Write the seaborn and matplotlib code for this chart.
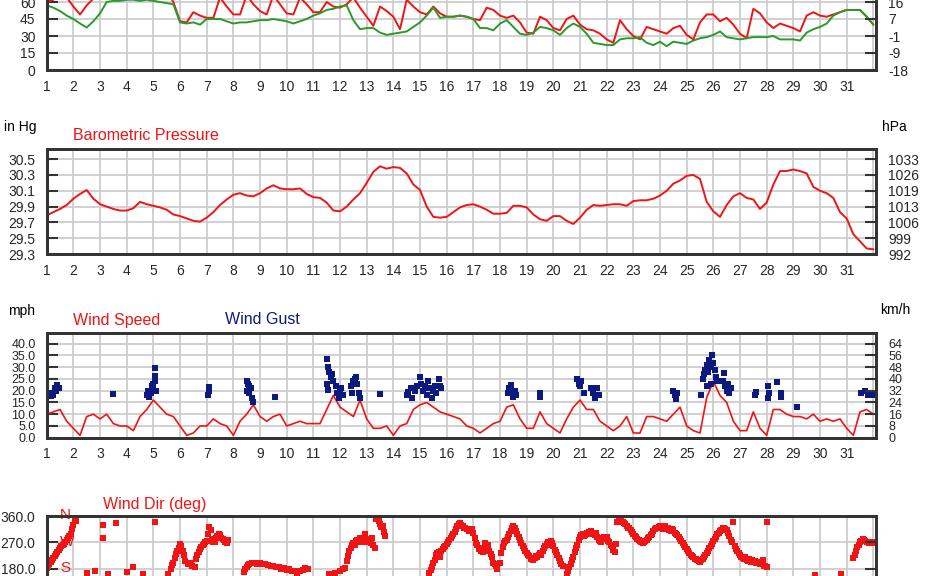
import numpy as np
import pandas as pd
import matplotlib
matplotlib.use("Agg")
import matplotlib.pyplot as plt
import seaborn as sns

# ---------------- data ----------------
days = list(range(1, 32))
sample_days = np.arange(1.0, 32.001, 0.25)   # one sample every 6 hours

temp_f = [60, 62, 66, 64,   56, 49, 57, 63,   66, 64, 70, 68,   66, 65, 70, 68,
          67, 66, 70, 60,   43, 42, 51, 48,   46, 46, 64, 56,   49, 49, 66, 58,
          52, 49, 66, 58,   50, 49, 64, 58,   51, 51, 60, 56,   55, 58, 64, 55,
          47, 39, 56, 52,   47, 36, 62, 56,   51, 49, 56, 50,   47, 47, 48, 47,
          45, 44, 55, 53,   48, 46, 48, 42,   33, 32, 47, 44,   37, 35, 45, 48,
          40, 36, 35, 32,   27, 24, 44, 36,   30, 27, 38, 36,   34, 32, 37, 39,
          31, 27, 42, 49,   49, 43, 46, 40,   32, 28, 54, 50,   42, 37, 41, 39,
          37, 34, 48, 51,   48, 47, 49, 51,   53, 53, 53, 47,   40]
dew_f = [57, 55, 52, 48,   45, 41, 37.5, 43, 50, 60, 61, 61,   62, 62, 61, 62,
         61, 60, 59, 58,   42, 41, 42, 40,   45, 45, 45, 43,   41, 42, 42, 43,
         44, 44, 45, 44,   43, 41, 43, 45,   48, 50, 53, 54,   56, 57, 44, 36,
         37, 37, 33, 31,   32, 33, 34, 38,   42, 48, 55, 46,   47, 47, 48, 47,
         45, 37, 37, 35,   41, 44, 38, 32,   31, 33, 38, 37,   35, 31, 37, 41,
         38, 32, 24, 23,   22, 22, 27, 28,   28, 29, 24, 22,   25, 21, 25, 24,
         23, 26, 28, 29,   31, 34, 29, 28,   27, 28, 29, 29,   29, 30, 27, 27,
         27, 26, 33, 36,   38, 41, 48, 51,   53, 53, 53, 47,   40]
press_inhg = [29.79, 29.83, 29.87, 29.92,  30.00, 30.06, 30.11, 30.00,  29.93, 29.90, 29.87, 29.85,
              29.85, 29.88, 29.96, 29.93,  29.91, 29.89, 29.86, 29.80,  29.78, 29.75, 29.72, 29.71,
              29.76, 29.83, 29.92, 29.99,  30.05, 30.07, 30.04, 30.03,  30.07, 30.13, 30.17, 30.13,
              30.12, 30.12, 30.13, 30.06,  30.02, 30.01, 29.95, 29.85,  29.84, 29.90, 29.99, 30.07,
              30.20, 30.34, 30.41, 30.38,  30.40, 30.39, 30.32, 30.18,  30.11, 29.90, 29.77, 29.76,
              29.77, 29.83, 29.89, 29.92,  29.93, 29.90, 29.86, 29.81,  29.81, 29.82, 29.91, 29.91,
              29.89, 29.80, 29.74, 29.72,  29.78, 29.78, 29.72, 29.68,  29.76, 29.86, 29.92, 29.91,
              29.92, 29.93, 29.93, 29.91,  29.97, 29.98, 29.98, 30.00,  30.04, 30.10, 30.19, 30.23,
              30.29, 30.30, 30.25, 29.96,  29.84, 29.77, 29.92, 30.03,  30.07, 30.01, 29.99, 29.87,
              29.95, 30.18, 30.35, 30.35,  30.37, 30.35, 30.32, 30.15,  30.10, 30.07, 30.01, 29.83,
              29.75, 29.55, 29.46, 29.37,  29.36]
wind_mph = [10, 11, 12, 7,   4, 1, 9, 10,   8, 10, 6, 5,   5, 3, 9, 12,
            16, 13, 10, 9,   5, 1, 2, 5,    5, 8, 6, 5,    1, 7, 10, 14,
            9, 7, 9, 10,     5, 6, 7, 6,    6, 6, 12, 18,  13, 11, 9, 16,
            8, 4, 4, 5,      1, 5, 6, 12,   14, 15, 13, 11, 10, 9, 8, 5,
            4, 2, 4, 6,      7, 13, 14, 8,  4, 4, 11, 6,   4, 2, 8, 13,
            16, 12, 12, 7,   5, 3, 5, 9,    2, 2, 9, 9,    8, 7, 10, 13,
            5, 3, 2, 17,     24, 18, 15, 7, 3, 3, 11, 4,   1, 12, 12, 10,
            9, 9, 8, 10,     7, 8, 7, 8,    4, 1, 11, 12,  10]
gust_day = [1.15, 1.2, 1.25, 1.3, 1.35, 1.4, 1.45, 3.5,
            4.75, 4.8, 4.85, 4.9, 4.95, 5.0, 5.0, 5.05, 5.05, 5.05, 5.1,
            7.05, 7.1, 7.1, 8.5, 8.55, 8.6, 8.5, 8.6, 8.65, 8.7, 8.75, 9.55,
            11.5, 11.55, 11.6, 11.65, 11.5, 11.55, 11.7, 11.75,
            11.85, 11.9, 11.95, 12.0, 12.05, 12.1,
            12.4, 12.45, 12.5, 12.55, 12.6, 12.65, 12.7, 12.75, 13.5,
            14.5, 14.55, 14.65, 14.7, 14.8, 14.9, 15.0, 15.05, 15.1, 15.2,
            15.25, 15.3, 15.35, 15.45, 15.5, 15.55, 15.6, 15.7, 15.75, 15.8,
            18.3, 18.35, 18.4, 18.45, 18.5, 18.55, 18.6, 19.5, 19.5,
            20.9, 20.95, 21.0, 21.05, 21.15, 21.4, 21.5, 21.55, 21.65, 21.7,
            24.5, 24.55, 24.6, 24.65,
            25.55, 25.6, 25.65, 25.7, 25.75, 25.75, 25.8, 25.85, 25.9, 25.9,
            25.95, 26.0, 26.05, 26.1, 26.15,
            26.35, 26.4, 26.45, 26.5, 26.55, 26.6, 26.65,
            27.55, 27.6, 28.05, 28.1, 28.05, 28.4, 28.55, 28.55, 29.15,
            31.55, 31.7, 31.8, 31.9, 32.0]
gust_mph = [17.8, 19, 18, 21, 20, 22.5, 21, 18.5,
            18, 20, 17.5, 19, 22, 21, 23, 24, 26.4, 29.5, 20,
            18, 20, 21.5, 24, 23, 22, 20, 19, 21, 17, 15, 17.5,
            33.5, 30, 28, 26, 23, 20.5, 27, 24,
            22, 19, 17, 20, 21, 18,
            22, 19, 24, 25, 26, 23, 19, 17, 18.5,
            18, 19.5, 21, 17, 20, 22, 26, 23, 20, 22,
            18, 24, 21, 17, 20, 22, 19, 25, 22, 21,
            19, 21, 22.5, 19, 17.5, 20, 18, 17.5, 19,
            25, 23, 22, 24, 19, 21, 19, 17, 21, 18,
            20, 18, 16.5, 19,
            18, 25, 27, 29, 31, 22, 28, 33, 30, 23,
            35, 32, 29, 26, 24,
            24, 27.5, 22, 20, 23, 19, 21,
            18, 19.5, 22, 19, 17, 23.5, 19, 17.5, 13,
            19, 20, 18, 19, 18]
dir_day = [1.0, 1.05, 1.1, 1.15, 1.2, 1.25, 1.3, 1.35, 1.4, 1.45, 1.5, 1.55, 1.6, 1.65,
           1.7, 1.75, 1.8, 1.85, 1.9, 1.95, 2.0, 2.05, 2.1,
           3.1, 3.1, 3.6, 5.07, 4.25, 2.5, 2.8, 3.3, 4.0, 4.6,
           5.55, 5.65, 5.7, 5.75, 5.8, 5.85, 5.9, 5.95, 6.0, 6.05, 6.1, 6.15, 6.2, 6.3, 6.4, 6.45, 6.55,
           6.6, 6.65, 6.7, 6.75, 6.8, 6.85, 6.9, 6.95, 7.0, 7.05, 7.1, 7.15, 7.2, 7.25, 7.3, 7.35,
           7.4, 7.45, 7.5, 7.55, 7.6, 7.65, 7.7, 7.75, 7.8,
           8.4, 8.45, 8.5, 8.55, 8.6, 8.7, 8.8, 8.9, 9.0, 9.1, 9.2, 9.3, 9.4, 9.5, 9.6, 9.7, 9.8,
           9.9, 10.0, 10.1, 10.2, 10.3, 10.4, 10.5, 10.6, 10.7, 10.8,
           11.6, 11.8, 12.0, 12.1, 12.2,
           12.25, 12.3, 12.35, 12.4, 12.45, 12.5, 12.55, 12.6, 12.65, 12.7, 12.75, 12.8, 12.85,
           12.9, 12.95, 13.0, 13.05, 13.1, 13.15, 13.2, 13.25, 13.3,
           13.35, 13.4, 13.45, 13.5, 13.55, 13.6, 13.65, 13.7,
           15.35, 15.4, 15.45, 15.5, 15.55, 15.6, 15.65, 15.7, 15.75, 15.8, 15.85, 15.9, 15.95,
           16.0, 16.05, 16.1, 16.15, 16.2, 16.25, 16.3, 16.35, 16.4, 16.45, 16.5,
           16.55, 16.6, 16.65, 16.7, 16.75, 16.8, 16.85, 16.9, 16.95, 17.0,
           17.05, 17.1, 17.15, 17.2, 17.25, 17.3, 17.35, 17.4, 17.45, 17.5, 17.55, 17.6, 17.65,
           17.7, 17.75, 17.8, 17.85, 17.9,
           18.0, 18.05, 18.1, 18.15, 18.2, 18.25, 18.3, 18.35, 18.4, 18.45, 18.5, 18.55, 18.6,
           18.65, 18.7, 18.75, 18.8, 18.85, 18.9,
           18.95, 19.0, 19.05, 19.1, 19.15, 19.2, 19.25, 19.3, 19.35, 19.4, 19.45, 19.5, 19.55,
           19.6, 19.65, 19.7, 19.75, 19.8, 19.85, 19.9, 19.95, 20.0, 20.05, 20.1, 20.15, 20.2,
           20.25, 20.3, 20.35,
           20.5, 20.55, 20.6, 20.65, 20.7, 20.75, 20.8, 20.85, 20.9, 20.95,
           21.0, 21.05, 21.1, 21.15, 21.2, 21.25, 21.3, 21.35, 21.4, 21.45, 21.5, 21.55, 21.6,
           21.65, 21.7, 21.75, 21.8, 21.85, 21.9, 21.95, 22.0, 22.05, 22.1, 22.15, 22.2, 22.25,
           22.3, 22.35,
           22.4, 22.45, 22.5, 22.55, 22.6, 22.65, 22.7, 22.75, 22.8, 22.85, 22.9,
           22.95, 23.0, 23.05, 23.1, 23.15, 23.2, 23.25, 23.3, 23.35, 23.4, 23.45, 23.5, 23.55,
           23.6, 23.65, 23.7,
           23.75, 23.8, 23.85, 23.9, 23.95, 24.0, 24.05, 24.1, 24.15, 24.2, 24.25, 24.3, 24.35,
           24.4, 24.45, 24.5, 24.55, 24.6, 24.65, 24.7,
           24.75, 24.8, 24.85, 24.9, 24.95, 25.0, 25.05, 25.1, 25.15, 25.2, 25.25, 25.3, 25.35,
           25.4, 25.45, 25.5, 25.55, 25.6, 25.65, 25.7, 25.75, 25.8, 25.85, 25.9, 25.95, 26.0,
           26.05, 26.1, 26.15, 26.2, 26.25, 26.3, 26.35, 26.4, 26.45, 26.5, 26.55, 26.6, 26.65,
           26.7, 26.75, 26.8, 26.85, 26.9,
           26.95, 27.0, 27.05, 27.1, 27.15, 27.2, 27.25, 27.3, 27.35, 27.4, 27.45, 27.5, 27.55,
           27.6, 27.65, 27.7, 27.75, 27.8, 27.85, 27.9, 27.95, 28.0, 28.02,
           29.8, 30.8,
           31.25, 31.3, 31.35, 31.4, 31.45, 31.5, 31.55, 31.6, 31.65, 31.7, 31.75, 31.8, 31.85,
           31.9, 31.95, 32.0]
dir_deg = [182, 188, 195, 203, 210, 216, 222, 230, 236, 244, 250, 256, 262, 266,
           272, 278, 286, 292, 300, 316, 330, 352, 345,
           331, 285, 337, 339, 185, 165, 170, 162, 168, 160,
           160, 178, 192, 200, 215, 230, 240, 252, 265, 258, 240, 225, 205, 195, 200, 190, 185,
           212, 228, 236, 248, 255, 262, 266, 270, 276, 300, 322, 312, 282, 272, 270, 285,
           292, 300, 296, 286, 282, 278, 272, 268, 278,
           168, 178, 186, 192, 196, 200, 198, 196, 198, 194, 196, 192, 190, 188, 185, 186, 180,
           182, 176, 178, 170, 172, 166, 170, 176, 182, 178,
           160, 166, 172, 178, 182,
           205, 222, 240, 252, 262, 268, 262, 275, 280, 272, 285, 278, 270,
           276, 300, 282, 272, 278, 268, 284, 262, 250,
           350, 360, 345, 332, 322, 326, 305, 292,
           165, 175, 186, 198, 210, 228, 234, 236, 220, 240, 248, 255, 258,
           266, 272, 280, 286, 292, 298, 305, 315, 326, 334, 338,
           330, 325, 320, 318, 315, 316, 310, 314, 315, 302,
           285, 268, 260, 248, 252, 240, 236, 248, 268, 252, 262, 240, 230,
           220, 200, 195, 190, 180,
           200, 235, 255, 268, 275, 280, 290, 298, 310, 318, 326, 318, 308,
           300, 290, 280, 268, 258, 250,
           240, 232, 226, 222, 214, 212, 208, 215, 222, 218, 228, 232, 226,
           240, 250, 258, 266, 272, 262, 275, 268, 258, 245, 238, 228, 215,
           205, 196, 188,
           160, 172, 185, 196, 208, 220, 236, 250, 262, 278,
           290, 296, 300, 292, 296, 302, 298, 306, 310, 304, 300, 296, 302,
           290, 280, 276, 272, 284, 288, 282, 290, 276, 270, 262, 258, 245,
           238, 265,
           340, 350, 358, 352, 342, 338, 334, 326, 320, 318, 314,
           306, 300, 292, 288, 282, 278, 274, 272, 268, 270, 276, 280, 286,
           290, 296, 300,
           310, 316, 320, 318, 322, 326, 320, 316, 322, 326, 320, 318, 314,
           310, 316, 312, 304, 300, 296, 290,
           282, 276, 268, 262, 255, 248, 240, 234, 228, 224, 218, 214, 212,
           210, 206, 204, 210, 214, 220, 226, 234, 242, 250, 258, 266, 274,
           282, 290, 298, 304, 310, 314, 318, 320, 316, 312, 302, 292, 280,
           270, 340, 258, 248, 240,
           232, 226, 220, 216, 212, 218, 208, 206, 212, 204, 208, 202, 206,
           200, 198, 204, 196, 194, 210, 190, 188, 184, 340,
           158, 160,
           215, 226, 240, 255, 262, 270, 276, 282, 278, 275, 270, 272, 268,
           272, 270, 268]

temp_ticks = [0, 15, 30, 45, 60]
temp_c_labels = ["-18", "-9", "-1", "7", "16"]
press_ticks = [29.3, 29.5, 29.7, 29.9, 30.1, 30.3, 30.5]
press_hpa_labels = ["992", "999", "1006", "1013", "1019", "1026", "1033"]
wind_ticks = [0, 5, 10, 15, 20, 25, 30, 35, 40]
wind_kmh_labels = ["0", "8", "16", "24", "32", "40", "48", "56", "64"]
dir_ticks = [0, 90, 180, 270, 360]

# ---------------- style ----------------
sns.set_style("white")
plt.rcParams['font.family'] = ['Liberation Sans', 'DejaVu Sans']

W, H = 927, 576
fig = plt.figure(figsize=(W / 100, H / 100), dpi=100)

RED = '#f01414'
GREEN = '#2a9a2a'
NAVY = '#0c1a80'
GRID = '#cdcdcd'
BORDER = '#333333'

L_PX, R_PX = 46.7, 876.0


def make_axes(top_px, bottom_px):
    return fig.add_axes([L_PX / W, 1 - bottom_px / H, (R_PX - L_PX) / W,
                         (bottom_px - top_px) / H])


def style_axes(ax, yticks, ylabels, rlabels, ylim, ysize=10):
    ax.set_xlim(1, 32.1)
    ax.set_ylim(*ylim)
    ax.set_xticks(list(range(1, 33)))
    ax.set_xticklabels([str(d) for d in days] + [''])
    ax.set_yticks(yticks)
    ax.set_yticklabels(ylabels)
    ax.grid(True, color=GRID, lw=1.3, zorder=0)
    ax.set_axisbelow(True)
    for s in ax.spines.values():
        s.set_color(BORDER)
        s.set_linewidth(2.0)
    ax.tick_params(axis='y', direction='in', length=8, width=1.5, color=BORDER,
                   labelsize=ysize, pad=8)
    ax.tick_params(axis='x', direction='in', length=6, width=1.5, color=BORDER,
                   labelsize=10, pad=7)
    ax.set_xlabel('')
    ax.set_ylabel('')
    ax2 = ax.twinx()
    ax2.set_ylim(*ylim)
    ax2.set_yticks(yticks)
    ax2.set_yticklabels(rlabels)
    ax2.tick_params(axis='y', direction='in', length=8, width=1.5, color=BORDER,
                    labelsize=ysize, pad=9)
    for s in ax2.spines.values():
        s.set_color(BORDER)
        s.set_linewidth(2.0)
    ax2.grid(False)
    return ax2


def ftext(x_px, y_px, s, color='black', size=10):
    fig.text(x_px / W, 1 - y_px / H, s, color=color, fontsize=size,
             ha='left', va='center')


# ---------- Temperature / dew point ----------
ax_t = make_axes(70 - 75 * 17 / 15, 70)
sns.lineplot(x=sample_days, y=temp_f, ax=ax_t, color=RED, lw=1.4, estimator=None)
sns.lineplot(x=sample_days, y=dew_f, ax=ax_t, color=GREEN, lw=1.4, estimator=None)
style_axes(ax_t, temp_ticks, [str(t) for t in temp_ticks], temp_c_labels, (0, 75))

# ---------- Barometric pressure ----------
ax_p = make_axes(149, 254)
sns.lineplot(x=sample_days, y=press_inhg, ax=ax_p, color=RED, lw=1.4, estimator=None)
style_axes(ax_p, press_ticks, [f"{t:.1f}" for t in press_ticks], press_hpa_labels,
           (29.3, 29.3 + 105 / 79))
ftext(4, 127, "in Hg")
ftext(73, 136, "Barometric Pressure", RED, 11.5)
ftext(882, 127, "hPa")

# ---------- Wind speed / gust ----------
ax_w = make_axes(333, 437.7)
sns.lineplot(x=sample_days, y=wind_mph, ax=ax_w, color=RED, lw=1.2, estimator=None)
sns.scatterplot(x=gust_day, y=gust_mph, ax=ax_w, color=NAVY, marker='s', s=18,
                linewidth=0, zorder=4)
style_axes(ax_w, wind_ticks, [f"{t:.1f}" for t in wind_ticks], wind_kmh_labels,
           (0, 104.7 / 2.35), ysize=9)
ftext(8, 311, "mph")
ftext(73, 320, "Wind Speed", RED, 11.5)
ftext(225, 320, "Wind Gust", NAVY, 11.5)
ftext(880, 310, "km/h")

# ---------- Wind direction ----------
ax_d = make_axes(516.3, 620.7)
sns.scatterplot(x=dir_day, y=dir_deg, ax=ax_d, color=RED, marker='s', s=18,
                linewidth=0, zorder=4)
ax2d = style_axes(ax_d, dir_ticks, [f"{t:.1f}" for t in dir_ticks],
                  ['' for _ in dir_ticks], (0, 360))
for lab, val in zip(["N", "W", "S"], [366, 270, 180]):
    ax_d.text(1.5, val, lab, color=RED, fontsize=11, ha='left', va='center',
              zorder=2, clip_on=False)
ftext(103, 504, "Wind Dir (deg)", RED, 11.5)

fig.savefig("out.png", dpi=100)
